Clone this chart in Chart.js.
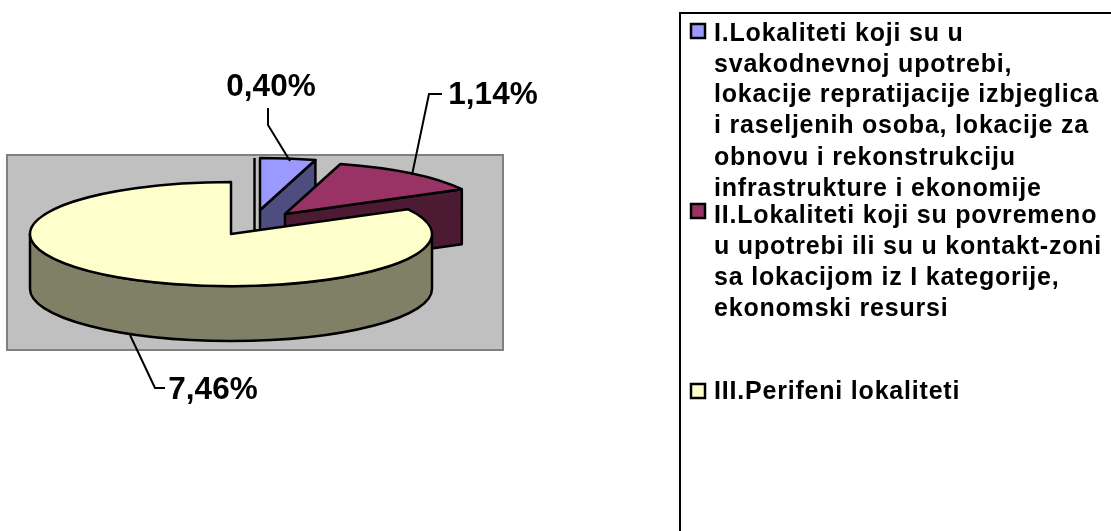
<!DOCTYPE html>
<html><head><meta charset="utf-8">
<script src="https://cdn.jsdelivr.net/npm/chart.js@4"></script>
<style>html,body{margin:0;padding:0;background:#fff}canvas{display:block}</style>
</head><body><canvas id="c" width="1111" height="531"></canvas>
<script>
const categories = ["I.Lokaliteti koji su u svakodnevnoj upotrebi, lokacije repratijacije izbjeglica i raseljenih osoba, lokacije za obnovu i rekonstrukciju infrastrukture i ekonomije","II.Lokaliteti koji su povremeno u upotrebi ili su u kontakt-zoni sa lokacijom iz I kategorije, ekonomski resursi","III.Perifeni lokaliteti"];
const values = [0.40, 1.14, 7.46];
const valueLabels = ["0,40%", "1,14%", "7,46%"];
const legendLines = [
 ["I.Lokaliteti koji su u","svakodnevnoj upotrebi,","lokacije repratijacije izbjeglica","i raseljenih osoba, lokacije za","obnovu i rekonstrukciju","infrastrukture i ekonomije"],
 ["II.Lokaliteti koji su povremeno","u upotrebi ili su u kontakt-zoni","sa lokacijom iz I kategorije,","ekonomski resursi"],
 ["III.Perifeni lokaliteti"]
];
const topColors = ["#9999ff","#993366","#ffffcc"];
const sideColors = ["#4d4d80","#4d1a33","#808066"];
const sliceShift = [[29,-24],[54,-20],[0,0]];
const squash = 0.259, depth = 55;
const labelPos = [[271,87],[493,95],[213,390]];
const leaders = [[[268,108],[268,125],[290,161]],[[442,94],[429,94],[412,175]],[[130,335],[155,388],[165,388]]];
const legendY = [[41,72,102,133,165,196],[223,254,285,316],[399]];
const swatchY = [31,211,391];

const pie3d = {
  id:'pie3d',
  beforeDatasetsDraw(chart){
    const ctx = chart.ctx, arcs = chart.getDatasetMeta(0).data;
    ctx.save();
    ctx.fillStyle='#c0c0c0'; ctx.strokeStyle='#808080'; ctx.lineWidth=2;
    ctx.fillRect(7,155,496,195); ctx.strokeRect(7,155,496,195);
    ctx.lineJoin='round'; ctx.strokeStyle='#000'; ctx.lineWidth=2.5;
    // thin edge beside the first slice
    ctx.beginPath(); ctx.moveTo(254.5,158); ctx.lineTo(254.5,232); ctx.stroke();
    arcs.forEach((el,i)=>{
      const x=el.x+sliceShift[i][0], y=el.y+sliceShift[i][1], R=el.outerRadius, r=R*squash;
      const a0=el.startAngle, a1=el.endAngle;
      // cut face at end angle
      if(i<2){
        const ex=x+R*Math.cos(a1), ey=y+r*Math.sin(a1);
        ctx.beginPath(); ctx.moveTo(x,y); ctx.lineTo(ex,ey); ctx.lineTo(ex,ey+depth); ctx.lineTo(x,y+depth); ctx.closePath();
        ctx.fillStyle=sideColors[i]; ctx.fill(); ctx.stroke();
      }
      // outer wall on the front half
      const s=Math.max(a0,0), e=Math.min(a1,Math.PI);
      if(e>s){
        ctx.beginPath(); ctx.ellipse(x,y,R,r,0,s,e,false); ctx.ellipse(x,y+depth,R,r,0,e,s,true); ctx.closePath();
        ctx.fillStyle=sideColors[i]; ctx.fill(); ctx.stroke();
      }
      // top face
      ctx.beginPath(); ctx.moveTo(x,y); ctx.ellipse(x,y,R,r,0,a0,a1,false); ctx.closePath();
      ctx.fillStyle=topColors[i]; ctx.fill(); ctx.stroke();
    });
    // leaders and value labels
    ctx.lineWidth=2; ctx.strokeStyle='#000'; ctx.lineJoin='miter';
    leaders.forEach(p=>{ctx.beginPath();p.forEach((q,j)=>j?ctx.lineTo(q[0],q[1]):ctx.moveTo(q[0],q[1]));ctx.stroke();});
    ctx.fillStyle='#000'; ctx.textAlign='center'; ctx.textBaseline='middle';
    ctx.font='bold 31.5px "Liberation Sans"';
    valueLabels.forEach((t,i)=>ctx.fillText(t,labelPos[i][0],labelPos[i][1]));
    // legend
    ctx.strokeStyle='#000'; ctx.lineWidth=2;
    ctx.beginPath(); ctx.moveTo(1111,13); ctx.lineTo(680,13); ctx.lineTo(680,531); ctx.stroke();
    ctx.textAlign='left'; ctx.textBaseline='alphabetic';
    ctx.font='bold 25px "Liberation Sans"'; ctx.letterSpacing='0.8px';
    legendLines.forEach((lines,i)=>{
      ctx.fillStyle=topColors[i];
      ctx.lineWidth=2.5;
      ctx.fillRect(691,swatchY[i]-7,14,14); ctx.strokeRect(691,swatchY[i]-7,14,14);
      ctx.fillStyle='#000';
      lines.forEach((t,j)=>ctx.fillText(t,714,legendY[i][j]));
    });
    ctx.restore();
    return false;
  }
};
new Chart(document.getElementById('c'),{
  type:'pie',
  data:{labels:categories,datasets:[{data:values,backgroundColor:topColors,borderColor:'#000',borderWidth:0}]},
  options:{responsive:false,animation:false,
    layout:{padding:{left:30,top:33,right:679,bottom:96}},
    plugins:{legend:{display:false},tooltip:{enabled:false},title:{display:false}}},
  plugins:[pie3d]
});
</script></body></html>
